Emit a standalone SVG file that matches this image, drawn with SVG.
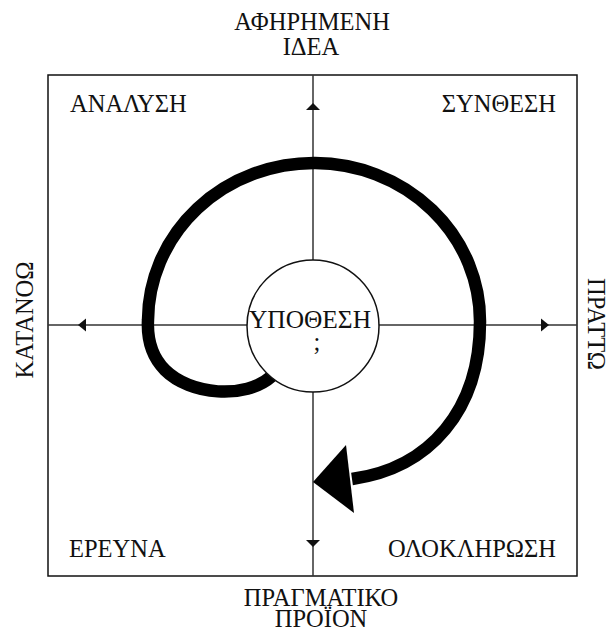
<svg xmlns="http://www.w3.org/2000/svg" width="611" height="632" viewBox="0 0 611 632">
<style>
text{font-family:"Liberation Serif","Times New Roman",serif;font-size:24.5px;fill:#111}
.axis{stroke:#333;stroke-width:1.5;fill:none}
.head{fill:#111}
.spiral{stroke:#000;stroke-width:12.5;fill:none}
</style>
<rect width="611" height="632" fill="#fff"/>
<g id="frame"><rect x="48" y="75" width="529" height="501" fill="none" stroke="#111" stroke-width="1.5"/></g>
<g id="connectors">
<line class="axis" x1="313" y1="75" x2="313" y2="576"/>
<line class="axis" x1="48" y1="325" x2="577" y2="325"/>
<polygon class="head" points="313,103 320,110 306,110"/>
<polygon class="head" points="313,547 320,540 306,540"/>
<polygon class="head" points="78,325 86,318.5 86,331.5"/>
<polygon class="head" points="549,325 541,318.5 541,331.5"/>
<path class="spiral" d="M285 362 L272 376 C245 400 190 395 165 370 C152 357 147 340 148 320 A166 158 0 0 1 480 322 C480 410 430 468 352 479"/>
<polygon fill="#000" points="313,482 346,445 354,513"/>
</g>
<g id="hypothesis">
<circle cx="313" cy="326" r="66" fill="#fff" stroke="#111" stroke-width="1.5"/>
<text x="310" y="328" text-anchor="middle" font-size="26" textLength="122" lengthAdjust="spacingAndGlyphs">ΥΠΟΘΕΣΗ</text>
<text x="317" y="350" text-anchor="middle" font-size="26">;</text>
</g>
<g id="top-label"><text x="312" y="30" text-anchor="middle">ΑΦΗΡΗΜΕΝΗ</text><text x="311" y="55" text-anchor="middle">ΙΔΕΑ</text></g>
<g id="bottom-label"><text x="321" y="606" text-anchor="middle">ΠΡΑΓΜΑΤΙΚΟ</text><text x="321" y="627" text-anchor="middle">ΠΡΟΪΟΝ</text></g>
<g id="left-label"><text transform="translate(33,320) rotate(-90)" text-anchor="middle">ΚΑΤΑΝΟΩ</text></g>
<g id="right-label"><text transform="translate(588,324) rotate(90)" text-anchor="middle" font-size="24">ΠΡΑΤΤΩ</text></g>
<g id="analysis"><text x="70" y="112">ΑΝΑΛΥΣΗ</text></g>
<g id="synthesis"><text x="556" y="112" text-anchor="end">ΣΥΝΘΕΣΗ</text></g>
<g id="research"><text x="69" y="557">ΕΡΕΥΝΑ</text></g>
<g id="integration"><text x="556" y="557" text-anchor="end">ΟΛΟΚΛΗΡΩΣΗ</text></g>
</svg>
